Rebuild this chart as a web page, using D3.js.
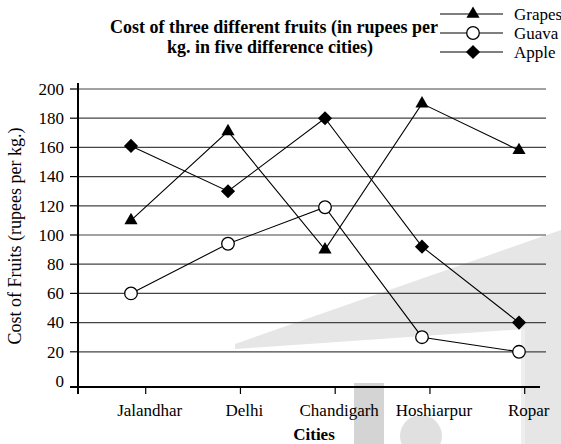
<!DOCTYPE html>
<html>
<head>
<meta charset="utf-8">
<script src="https://cdn.jsdelivr.net/npm/d3@7"></script>
<style>
  body { margin: 0; background: #fff; }
  text { font-family: "Liberation Serif", "Times New Roman", Times, "DejaVu Serif", serif; }
</style>
</head>
<body>
<main></main>
<script>
const cities = ['Jalandhar', 'Delhi', 'Chandigarh', 'Hoshiarpur', 'Ropar'];
const grapes = [110, 171, 90, 190, 158];
const guava = [60, 94, 119, 30, 20];
const apple = [161, 130, 180, 92, 40];
const yTicks = [0, 20, 40, 60, 80, 100, 120, 140, 160, 180, 200];

const series = [
  { name: 'Grapes', values: grapes, symbol: 'triangle' },
  { name: 'Guava', values: guava, symbol: 'circle' },
  { name: 'Apple', values: apple, symbol: 'diamond' }
];

const width = 561;
const height = 444;

const svg = d3
  .select('main')
  .append('svg')
  .attr('width', width)
  .attr('height', height);

// faint watermark in the background
const wm = svg.append('g').attr('class', 'watermark');
wm.append('path')
  .attr('d', 'M235,344 L561,230 L561,444 L525,444 L525,329 L235,349 Z')
  .attr('fill', '#e6e6e6');
wm.append('rect')
  .attr('x', 521).attr('y', 329).attr('width', 4).attr('height', 115)
  .attr('fill', '#eeeeee');
wm.append('rect')
  .attr('x', 354).attr('y', 383).attr('width', 30).attr('height', 61)
  .attr('fill', '#d4d4d4');
wm.append('circle')
  .attr('cx', 421).attr('cy', 436).attr('r', 21)
  .attr('fill', '#e0e0e0');

const y = d3.scaleLinear().domain([0, 200]).range([381, 89]);
const xTick = d3.scalePoint().domain(cities).range([145.7, 524.7]);
const xMark = d3.scalePoint().domain(cities).range([131, 519]);

const axisX = 78;
const axisY = 387;

// gridlines
svg.append('g')
  .selectAll('line')
  .data(yTicks.filter(d => d > 0))
  .enter()
  .append('line')
  .attr('x1', axisX)
  .attr('x2', 546)
  .attr('y1', d => y(d))
  .attr('y2', d => y(d))
  .attr('stroke', '#444')
  .attr('stroke-width', 1.2);

// y ticks + labels
const yt = svg.append('g');
yt.selectAll('line')
  .data(yTicks)
  .enter()
  .append('line')
  .attr('x1', 70)
  .attr('x2', axisX)
  .attr('y1', d => (d === 0 ? axisY : y(d)))
  .attr('y2', d => (d === 0 ? axisY : y(d)))
  .attr('stroke', '#000')
  .attr('stroke-width', 1.2);
yt.selectAll('text')
  .data(yTicks)
  .enter()
  .append('text')
  .attr('x', 64)
  .attr('y', d => y(d))
  .attr('dy', '0.34em')
  .attr('text-anchor', 'end')
  .attr('font-size', 17)
  .text(d => d);

// axes lines
svg.append('line')
  .attr('x1', axisX).attr('x2', axisX)
  .attr('y1', 83).attr('y2', 394)
  .attr('stroke', '#000').attr('stroke-width', 2);
svg.append('line')
  .attr('x1', 70).attr('x2', 540)
  .attr('y1', axisY).attr('y2', axisY)
  .attr('stroke', '#000').attr('stroke-width', 2);

// x ticks + labels
const xt = svg.append('g');
xt.selectAll('line')
  .data(cities)
  .enter()
  .append('line')
  .attr('x1', d => xTick(d))
  .attr('x2', d => xTick(d))
  .attr('y1', axisY)
  .attr('y2', axisY + 7)
  .attr('stroke', '#000')
  .attr('stroke-width', 1.2);
xt.selectAll('text')
  .data(cities)
  .enter()
  .append('text')
  .attr('x', d => xTick(d) + 4)
  .attr('y', 416)
  .attr('text-anchor', 'middle')
  .attr('font-size', 17)
  .text(d => d);

svg.append('text')
  .attr('x', 314)
  .attr('y', 440)
  .attr('text-anchor', 'middle')
  .attr('font-size', 17)
  .attr('font-weight', 'bold')
  .text('Cities');

svg.append('text')
  .attr('transform', 'translate(21, 236) rotate(-90)')
  .attr('text-anchor', 'middle')
  .attr('font-size', 18)
  .text('Cost of Fruits (rupees per kg.)');

// title
svg.append('text')
  .attr('x', 274)
  .attr('y', 33)
  .attr('text-anchor', 'middle')
  .attr('font-size', 18)
  .attr('font-weight', 'bold')
  .text('Cost of three different fruits (in rupees per');
svg.append('text')
  .attr('x', 270)
  .attr('y', 53)
  .attr('text-anchor', 'middle')
  .attr('font-size', 18)
  .attr('font-weight', 'bold')
  .text('kg. in five difference cities)');

function drawMarker(g, type) {
  if (type === 'triangle') {
    g.append('path')
      .attr('d', d3.symbol().type(d3.symbolTriangle).size(75)())
      .attr('fill', '#000');
  } else if (type === 'circle') {
    g.append('circle')
      .attr('r', 6.3)
      .attr('fill', '#fff')
      .attr('stroke', '#000')
      .attr('stroke-width', 1.3);
  } else {
    g.append('path')
      .attr('d', d3.symbol().type(d3.symbolSquare).size(100)())
      .attr('transform', 'rotate(45)')
      .attr('fill', '#000');
  }
}

const line = d3
  .line()
  .x((d, i) => xMark(cities[i]))
  .y(d => y(d));

series.forEach(s => {
  svg.append('path')
    .datum(s.values)
    .attr('d', line)
    .attr('fill', 'none')
    .attr('stroke', '#000')
    .attr('stroke-width', 1.1);
});

series.forEach(s => {
  s.values.forEach((v, i) => {
    const g = svg.append('g')
      .attr('transform', `translate(${xMark(cities[i])}, ${y(v)})`);
    drawMarker(g, s.symbol);
  });
});

// legend
const legendY = [14, 33, 52];
series.forEach((s, i) => {
  const lg = svg.append('g').attr('transform', `translate(0, ${legendY[i]})`);
  lg.append('line')
    .attr('x1', 440).attr('x2', 503)
    .attr('y1', 0).attr('y2', 0)
    .attr('stroke', '#000').attr('stroke-width', 1.1);
  const m = lg.append('g').attr('transform', 'translate(473, 0)');
  drawMarker(m, s.symbol);
  lg.append('text')
    .attr('x', 514)
    .attr('y', 0)
    .attr('dy', '0.34em')
    .attr('font-size', 17)
    .text(s.name);
});
</script>
</body>
</html>
